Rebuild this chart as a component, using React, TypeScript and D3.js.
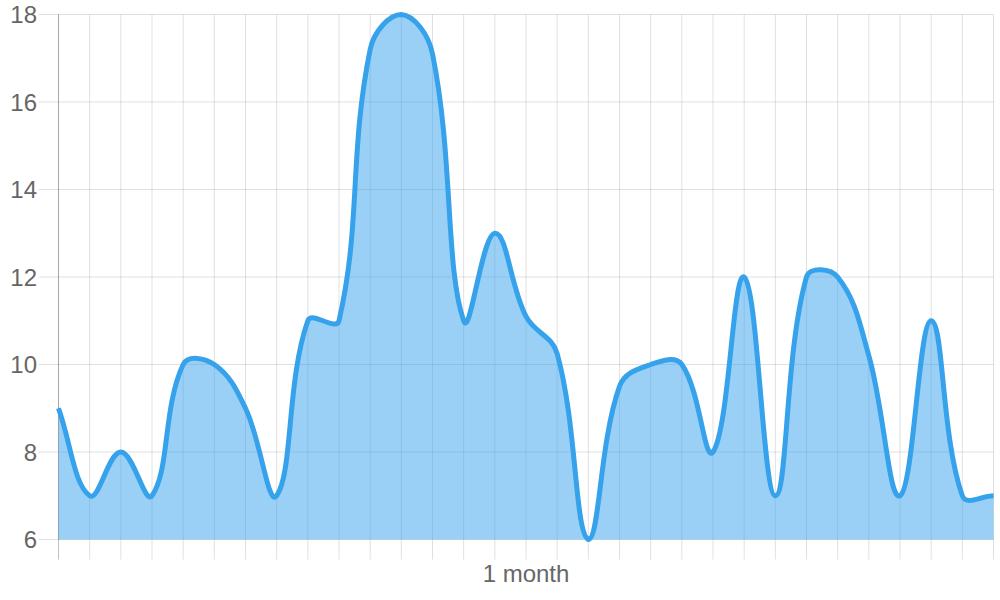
import React, { useMemo } from 'react';
import * as d3 from 'd3';

// one value per day
const days = [0, 1, 2, 3, 4, 5, 6, 7, 8, 9, 10, 11, 12, 13, 14, 15, 16, 17, 18, 19, 20, 21, 22, 23, 24, 25, 26, 27, 28, 29, 30];
const values = [9, 7, 8, 7, 10, 10, 9, 7, 11, 11, 17.2, 18, 17.1, 11, 13, 11.1, 10.25, 6, 9.5, 10, 10, 8, 12, 7, 12, 12, 10.2, 7, 11, 7, 7];
const xTickLabels = ['', '', '', '', '', '', '', '', '', '', '', '', '', '', '', '1 month', '', '', '', '', '', '', '', '', '', '', '', '', '', '', ''];
const yTicks = [6, 8, 10, 12, 14, 16, 18];

const W = 1000;
const H = 600;
const area = { left: 58.5, right: 993.5, top: 14.5, bottom: 539.5 };
const tickLen = 20;
const font = '"Liberation Sans", Arial, Helvetica, sans-serif';
const blue = 'rgb(54, 162, 235)';

type Pt = { x: number; y: number };

// Chart.js style spline (tension 0.4, control points capped to the chart area)
function splinePath(pts: Pt[], tension: number) {
  const clampX = (v: number) => Math.max(area.left, Math.min(area.right, v));
  const clampY = (v: number) => Math.max(area.top, Math.min(area.bottom, v));
  const cps = pts.map((cur, i) => {
    const prev = pts[i - 1] || cur;
    const next = pts[i + 1] || cur;
    const d01 = Math.hypot(cur.x - prev.x, cur.y - prev.y);
    const d12 = Math.hypot(next.x - cur.x, next.y - cur.y);
    let s01 = d01 / (d01 + d12);
    let s12 = d12 / (d01 + d12);
    if (isNaN(s01)) s01 = 0;
    if (isNaN(s12)) s12 = 0;
    const fa = tension * s01;
    const fb = tension * s12;
    return {
      prev: { x: clampX(cur.x - fa * (next.x - prev.x)), y: clampY(cur.y - fa * (next.y - prev.y)) },
      next: { x: clampX(cur.x + fb * (next.x - prev.x)), y: clampY(cur.y + fb * (next.y - prev.y)) },
    };
  });
  const p = d3.path();
  p.moveTo(pts[0].x, pts[0].y);
  for (let i = 1; i < pts.length; i++) {
    const a = cps[i - 1].next;
    const b = cps[i].prev;
    p.bezierCurveTo(a.x, a.y, b.x, b.y, pts[i].x, pts[i].y);
  }
  return p.toString();
}

const App: React.FC = () => {
  const x = d3.scaleLinear().domain([0, 30]).range([area.left, area.right]);
  const y = d3.scaleLinear().domain([6, 18]).range([area.bottom, area.top]);

  const { linePath, areaPath } = useMemo(() => {
    const pts = days.map((d, i) => ({ x: x(d), y: y(values[i]) }));
    const lp = splinePath(pts, 0.4);
    const ap = `${lp}L${pts[pts.length - 1].x},${area.bottom}L${pts[0].x},${area.bottom}Z`;
    return { linePath: lp, areaPath: ap };
  }, []);

  const grid = 'rgba(0,0,0,0.12)';

  return (
    <svg width={W} height={H} style={{ position: 'absolute', left: 0, top: 0 }}>
      <rect width={W} height={H} fill="#fff" />

      {/* horizontal grid + y tick marks */}
      {yTicks.map((t) => (
        <g key={'y' + t}>
          <line x1={area.left - tickLen} x2={area.right} y1={y(t)} y2={y(t)} stroke={grid} strokeWidth={1} />
          <text x={37} y={y(t) + 8.5} textAnchor="end" fontFamily={font} fontSize={24} fill="#666">
            {t}
          </text>
        </g>
      ))}

      {/* vertical grid + x tick marks */}
      {days.map((d, i) => (
        <g key={'x' + d}>
          <line
            x1={x(d)}
            x2={x(d)}
            y1={area.top}
            y2={area.bottom + tickLen}
            stroke={i === 0 ? 'rgba(0,0,0,0.25)' : grid}
            strokeWidth={1}
          />
          {xTickLabels[i] && (
            <text x={x(d)} y={582} textAnchor="middle" fontFamily={font} fontSize={24} fill="#666">
              {xTickLabels[i]}
            </text>
          )}
        </g>
      ))}
      {/* y axis border */}
      <line x1={area.left} x2={area.left} y1={area.top} y2={area.bottom} stroke={grid} strokeWidth={1} />

      {/* series */}
      <path d={areaPath} fill="rgba(54, 162, 235, 0.5)" stroke="none" />
      <path d={linePath} fill="none" stroke={blue} strokeWidth={5} strokeLinejoin="round" />
    </svg>
  );
};

export default App;
